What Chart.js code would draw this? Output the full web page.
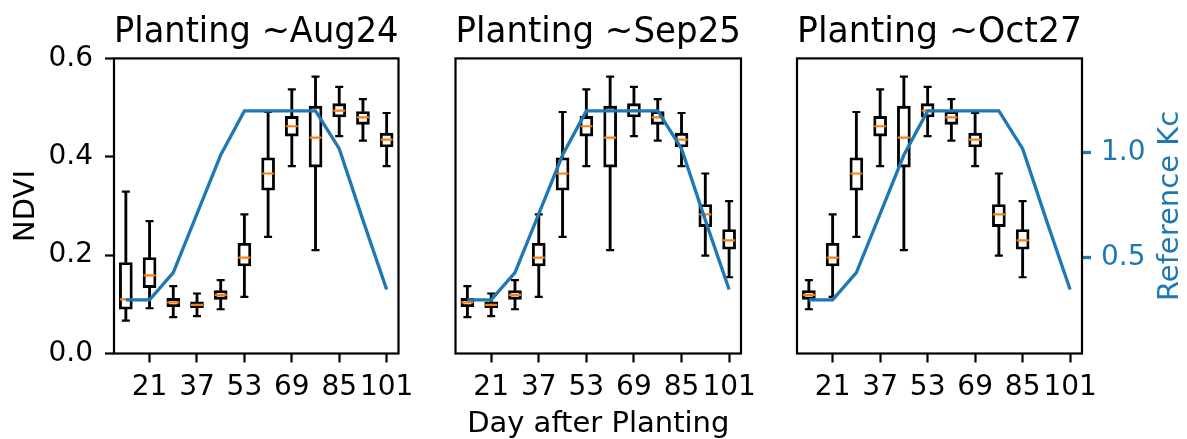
<!DOCTYPE html>
<html>
<head>
<meta charset="utf-8">
<script src="https://cdn.jsdelivr.net/npm/chart.js@4/dist/chart.umd.min.js"></script>
<style>
body{margin:0;background:#fff}
#wrap{position:relative;width:1187px;height:439px}
#wrap canvas{position:absolute;left:0;top:0}
</style>
</head>
<body>
<div id="wrap">
<canvas id="c1" width="1187" height="439"></canvas>
<canvas id="c2" width="1187" height="439"></canvas>
<canvas id="c3" width="1187" height="439"></canvas>
</div>
<script>
// days after planting for each box, and the labelled ticks
let days = [13,21,29,37,45,53,61,69,77,85,93,101]
let dayTicks = [21,37,53,69,85,101]
let ndviTicks = [0,0.2,0.4,0.6]
let kcTicks = [0.5,1.0]

// reference crop coefficient curve
let kc = [0.30,0.30,0.43,0.71,0.99,1.20,1.20,1.20,1.20,1.02,0.68,0.35]

// NDVI boxes, planting ~Aug24
let augMax = [0.329,0.269,0.137,0.122,0.149,0.283,0.491,0.537,0.563,0.542,0.517,0.489]
let augQ3  = [0.185,0.195,0.112,0.105,0.128,0.224,0.398,0.482,0.503,0.508,0.492,0.448]
let augMed = [0.110,0.159,0.104,0.099,0.119,0.195,0.366,0.462,0.439,0.494,0.480,0.435]
let augQ1  = [0.090,0.134,0.095,0.093,0.110,0.178,0.332,0.442,0.379,0.481,0.466,0.420]
let augMin = [0.067,0.092,0.074,0.076,0.090,0.115,0.237,0.381,0.210,0.442,0.433,0.381]

// planting ~Sep25
let sepMax = [0.137,0.122,0.149,0.283,0.491,0.537,0.563,0.542,0.517,0.489,0.366,0.310]
let sepQ3  = [0.112,0.105,0.128,0.224,0.398,0.482,0.503,0.508,0.492,0.448,0.303,0.252]
let sepMed = [0.104,0.099,0.119,0.195,0.366,0.462,0.439,0.494,0.480,0.435,0.283,0.230]
let sepQ1  = [0.095,0.093,0.110,0.178,0.332,0.442,0.379,0.481,0.466,0.420,0.258,0.212]
let sepMin = [0.074,0.076,0.090,0.115,0.237,0.381,0.210,0.442,0.433,0.381,0.199,0.155]

// planting ~Oct27
let octMax = [0.149,0.283,0.491,0.537,0.563,0.542,0.517,0.489,0.366,0.310]
let octQ3  = [0.128,0.224,0.398,0.482,0.503,0.508,0.492,0.448,0.303,0.252]
let octMed = [0.119,0.195,0.366,0.462,0.439,0.494,0.480,0.435,0.283,0.230]
let octQ1  = [0.110,0.178,0.332,0.442,0.379,0.481,0.466,0.420,0.258,0.212]
let octMin = [0.090,0.115,0.237,0.381,0.210,0.442,0.433,0.381,0.199,0.155]

const BLUE = "#1f77b4"
const ORANGE = "#ff7f0e"
const FONT = "DejaVu Sans"

Chart.defaults.color = "#000"
Chart.defaults.font.family = FONT

let frame = {
  id:"frame",
  beforeDatasetsDraw(chart){
    let a = chart.chartArea, ctx = chart.ctx
    ctx.save()
    ctx.strokeStyle = "#000"
    ctx.lineWidth = 2.2
    ctx.strokeRect(a.left, a.top, a.right-a.left, a.bottom-a.top)
    ctx.restore()
  }
}

// right axis title reads bottom-to-top
let kcTitle = {
  id:"kcTitle",
  afterDraw(chart){
    let s = chart.scales.kc
    if(!s.options.display) return
    let ctx = chart.ctx
    ctx.save()
    ctx.translate(s.right-17, (chart.chartArea.top+chart.chartArea.bottom)/2)
    ctx.rotate(-Math.PI/2)
    ctx.font = "29px '" + FONT + "'"
    ctx.fillStyle = BLUE
    ctx.textAlign = "center"
    ctx.textBaseline = "middle"
    ctx.fillText("Reference Kc", 0, 0)
    ctx.restore()
  }
}

function panel(id, title, maxV, q3V, medV, q1V, minV, opt){

let d = days.slice(0, medV.length)

let boxes = d.map((x,i)=>({x:x, y:[q1V[i], q3V[i]]}))
let lowW = d.map((x,i)=>({x:x, y:[minV[i], q1V[i]]}))
let highW = d.map((x,i)=>({x:x, y:[q3V[i], maxV[i]]}))
let caps = d.map((x,i)=>({x:x, y:minV[i]})).concat(d.map((x,i)=>({x:x, y:maxV[i]})))
let meds = d.map((x,i)=>({x:x, y:medV[i]}))
let kcLine = days.map((x,i)=>({x:x, y:kc[i]}))

let tickGrid = {display:true, drawOnChartArea:false, drawTicks:true, tickLength:9, tickWidth:2.2, tickColor:"#000"}

new Chart(document.getElementById(id),{
  type:"bar",
  data:{
    datasets:[
      {type:"line", data:kcLine, yAxisID:"kc", borderColor:BLUE, borderWidth:3.3, pointRadius:0, tension:0, order:0},
      {type:"line", data:meds, yAxisID:"y", showLine:false, pointStyle:"line", pointRadius:6,
        pointBorderColor:ORANGE, pointBorderWidth:2.2, order:1},
      {type:"line", data:caps, yAxisID:"y", showLine:false, pointStyle:"line", pointRadius:4,
        pointBorderColor:"#000", pointBorderWidth:2.2, order:2},
      {data:boxes, yAxisID:"y", backgroundColor:"rgba(0,0,0,0)", borderColor:"#000", borderWidth:2.2,
        borderSkipped:false, barThickness:13, grouped:false, order:3},
      {data:lowW, yAxisID:"y", backgroundColor:"#000", borderWidth:0, barThickness:2.2, grouped:false, order:4},
      {data:highW, yAxisID:"y", backgroundColor:"#000", borderWidth:0, barThickness:2.2, grouped:false, order:4}
    ]
  },
  options:{
    responsive:false,
    animation:false,
    events:[],
    layout:{padding:opt.pad},
    plugins:{
      legend:{display:false},
      tooltip:{enabled:false},
      title:{display:true, text:title, fullSize:false, color:"#000",
        font:{size:35, weight:"normal"}, padding:{top:11.5, bottom:4.9}}
    },
    scales:{
      x:{
        type:"linear", min:9, max:105, offset:false,
        afterBuildTicks:s=>{ s.ticks = dayTicks.map(v=>({value:v})) },
        ticks:{font:{size:28}, padding:8.5, maxRotation:0, autoSkip:false},
        grid:Object.assign({offset:false}, tickGrid),
        border:{display:false},
        title:{display:opt.xTitle, text:"Day after Planting", font:{size:29}, padding:{top:0, bottom:-3}},
        afterFit:s=>{ s.height = 85.5; s.paddingLeft = 0; s.paddingRight = 0 }
      },
      y:{
        type:"linear", position:"left", min:0, max:0.6, display:opt.showY,
        afterBuildTicks:s=>{ s.ticks = ndviTicks.map(v=>({value:v})) },
        ticks:{font:{size:28}, padding:12, callback:v=>v.toFixed(1)},
        grid:tickGrid,
        border:{display:false},
        title:{display:true, text:"NDVI", font:{size:29}, padding:{top:9.5, bottom:0}},
        afterFit:s=>{ if(opt.showY){ s.width = 114; s.paddingTop = 0; s.paddingBottom = 0 } }
      },
      kc:{
        type:"linear", position:"right", min:0.045, max:1.45, display:opt.showKc,
        afterBuildTicks:s=>{ s.ticks = kcTicks.map(v=>({value:v})) },
        ticks:{font:{size:28}, padding:10, color:BLUE, callback:v=>v.toFixed(1)},
        grid:{display:true, drawOnChartArea:false, drawTicks:true, tickLength:9, tickWidth:3.3, tickColor:BLUE},
        border:{display:false},
        afterFit:s=>{ if(opt.showKc){ s.width = 105; s.paddingTop = 0; s.paddingBottom = 0 } }
      }
    }
  },
  plugins:[frame, kcTitle]
})

}

panel("c1", "Planting ~Aug24", augMax, augQ3, augMed, augQ1, augMin,
  {pad:{left:0, right:1187-398.5, top:0, bottom:0}, showY:true, showKc:false, xTitle:false})

panel("c2", "Planting ~Sep25", sepMax, sepQ3, sepMed, sepQ1, sepMin,
  {pad:{left:455.5, right:1187-741, top:0, bottom:0}, showY:false, showKc:false, xTitle:true})

panel("c3", "Planting ~Oct27", octMax, octQ3, octMed, octQ1, octMin,
  {pad:{left:797, right:0, top:0, bottom:0}, showY:false, showKc:true, xTitle:false})
</script>
</body>
</html>
